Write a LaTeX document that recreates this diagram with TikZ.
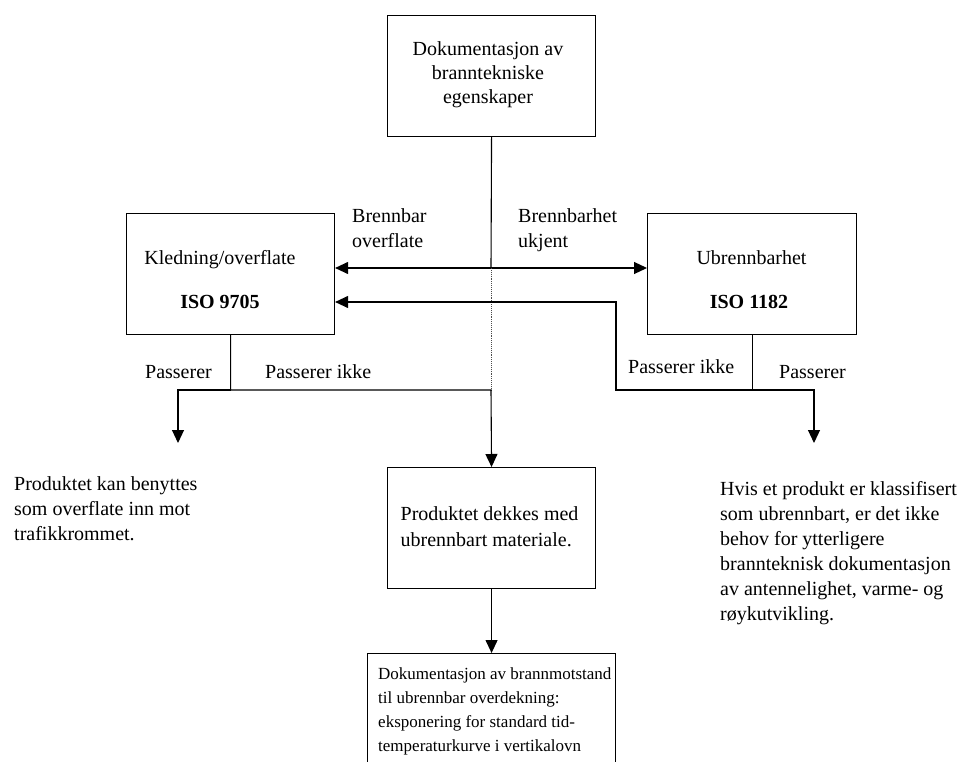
\documentclass[tikz,border=0pt]{standalone}
\usepackage{fontspec}
\setmainfont{Liberation Serif}
\usetikzlibrary{arrows.meta}
\newcommand{\txtblk}[2][l]{\begin{tabular}[t]{@{}#1@{}}#2\end{tabular}}
\begin{document}
\begin{tikzpicture}[x=1pt,y=-1pt,
  box/.style={draw=black, line width=1.1pt, inner sep=0pt, anchor=north west},
  lbl/.style={inner sep=0pt, font=\fontsize{20}{25}\selectfont},
  conn/.style={draw=black, line width=1.1pt},
  arr/.style={conn, -{Triangle[length=13pt,width=12pt]}},
  darr/.style={conn, {Triangle[length=13pt,width=12pt]}-{Triangle[length=13pt,width=12pt]}},
  dotline/.style={draw=black!70, line width=0.9pt, densely dotted}]
\clip (0,0) rectangle (960,762);
\fill[white] (0,0) rectangle (960,762);

% boxes
\node[box, minimum width=208pt, minimum height=121pt] (top) at (387,15) {};
\node[box, minimum width=208pt, minimum height=121pt] (kled) at (126,213) {};
\node[box, minimum width=209pt, minimum height=121pt] (ubr) at (647,213) {};
\node[box, minimum width=208pt, minimum height=121pt] (prod) at (387,467) {};
\node[box, minimum width=248pt, minimum height=140pt] (bot) at (367,653) {};

% box texts
\node[lbl, anchor=base, font=\fontsize{20}{24}\selectfont] (toptxt) at (488,56) {\txtblk[c]{Dokumentasjon av\\branntekniske\\egenskaper}};
\node[lbl, anchor=base] (kledtxt) at (220,264) {Kledning/overflate};
\node[lbl, anchor=base] (klediso) at (220,308) {\bfseries ISO 9705};
\node[lbl, anchor=base] (ubrtxt) at (751.5,264) {Ubrennbarhet};
\node[lbl, anchor=base] (ubriso) at (749,308) {\bfseries ISO 1182};
\node[lbl, anchor=base west, font=\fontsize{20}{26}\selectfont] (prodtxt) at (400.5,520.5) {\txtblk{Produktet dekkes med\\ubrennbart materiale.}};
\node[lbl, anchor=base west, font=\fontsize{17}{24}\selectfont] (bottxt) at (378,679) {\txtblk{Dokumentasjon av brannmotstand\\til ubrennbar overdekning:\\eksponering for standard tid-\\temperaturkurve i vertikalovn}};

% free texts
\node[lbl, anchor=base west] (brl) at (352,222) {\txtblk{Brennbar\\overflate}};
\node[lbl, anchor=base west] (bru) at (518,222) {\txtblk{Brennbarhet\\ukjent}};
\node[lbl, anchor=base east] (pl1) at (212,378) {Passerer};
\node[lbl, anchor=base west] (pl2) at (265,378) {Passerer ikke};
\node[lbl, anchor=base west] (pr1) at (628,373) {Passerer ikke};
\node[lbl, anchor=base west] (pr2) at (779,378) {Passerer};
\node[lbl, anchor=base west] (ltxt) at (14,490) {\txtblk{Produktet kan benyttes\\som overflate inn mot\\trafikkrommet.}};
\node[lbl, anchor=base west] (rtxt) at (720,495) {\txtblk{Hvis et produkt er klassifisert\\som ubrennbart, er det ikke\\behov for ytterligere\\brannteknisk dokumentasjon\\av antennelighet, varme- og\\røykutvikling.}};

% junctions
\coordinate (j1) at (491,268);
\coordinate (j2) at (491,390);
\coordinate (j3) at (616,302);
\coordinate (pl) at (178,443);
\coordinate (pr) at (814,443);

% connectors
\draw[conn] (top.south) -- (j1);
\draw[darr] (kled.east |- j1) -- (ubr.west |- j1);
\draw[dotline] (j1) -- (j2);
\draw[arr] (kled.south) |- (j2) -- (prod.north);
\draw[arr] (kled.south |- j2) -| (pl);
\draw[arr] (ubr.south) -- (ubr.south |- j2) -| (pr);
\draw[arr] (ubr.south |- j2) -| (j3) -- (kled.east |- j3);
\draw[arr] (prod.south) -- (bot.north);
\end{tikzpicture}
\end{document}
